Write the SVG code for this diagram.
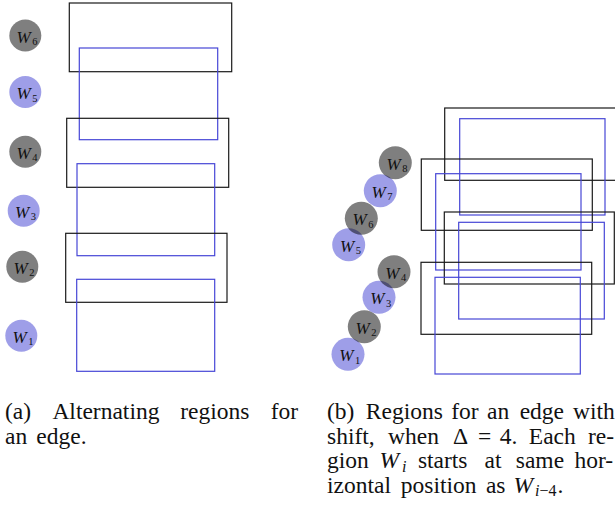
<svg xmlns="http://www.w3.org/2000/svg" width="615" height="508" viewBox="0 0 615 508">
<style>
.bk{fill:none;stroke:#1a1a1a;stroke-width:1.2}
.bl{fill:none;stroke:#4646d6;stroke-width:1.2}
.cg{fill:#000;fill-opacity:0.5}
.cb{fill:#3d3dd1;fill-opacity:0.5}
text{font-family:"Liberation Serif","DejaVu Serif",serif;fill:#111}
.w{font-style:italic;font-size:17px}
.s{font-size:10.5px}
.cap{font-size:23.5px}
.it{font-style:italic}
.sb{font-size:16px}
</style>
<g id="regions-a">
<rect class="bk" x="69.3" y="3" width="162.4" height="68.7"/>
<rect class="bl" x="79.3" y="48" width="138.4" height="91.7"/>
<rect class="bk" x="66.7" y="118.3" width="162" height="69"/>
<rect class="bl" x="77" y="163.7" width="137.7" height="92"/>
<rect class="bk" x="65.7" y="233.3" width="161.3" height="69"/>
<rect class="bl" x="76.7" y="279.3" width="138" height="92"/>
</g>
<g id="a-W6"><circle class="cg" cx="25.3" cy="35.5" r="16"/><text class="w" x="16.6" y="42.5">W</text><text class="s" x="32.3" y="45">6</text></g>
<g id="a-W5"><circle class="cb" cx="25.3" cy="92" r="16"/><text class="w" x="16.6" y="99">W</text><text class="s" x="32.3" y="101.5">5</text></g>
<g id="a-W4"><circle class="cg" cx="25.3" cy="151.7" r="16"/><text class="w" x="16.6" y="158.7">W</text><text class="s" x="32.3" y="161.2">4</text></g>
<g id="a-W3"><circle class="cb" cx="23.7" cy="210.7" r="16"/><text class="w" x="15" y="217.7">W</text><text class="s" x="30.7" y="220.2">3</text></g>
<g id="a-W2"><circle class="cg" cx="22.3" cy="266.7" r="16"/><text class="w" x="13.6" y="273.7">W</text><text class="s" x="29.3" y="276.2">2</text></g>
<g id="a-W1"><circle class="cb" cx="21.3" cy="335.7" r="16"/><text class="w" x="12.6" y="342.7">W</text><text class="s" x="28.3" y="345.2">1</text></g>

<g id="regions-b">
<rect class="bk" x="444.7" y="108" width="171" height="72.3"/>
<rect class="bl" x="459.7" y="118.7" width="145.3" height="96.3"/>
<rect class="bk" x="421.3" y="159" width="171" height="71.3"/>
<rect class="bl" x="435.7" y="173.7" width="145.3" height="96.3"/>
<rect class="bk" x="444.3" y="212" width="170" height="72"/>
<rect class="bl" x="458.7" y="222.3" width="145.6" height="96.7"/>
<rect class="bk" x="421" y="262.3" width="170.7" height="72"/>
<rect class="bl" x="435" y="277.3" width="145.3" height="96.7"/>
</g>
<g id="b-W1"><circle class="cb" cx="348" cy="354.3" r="16.5"/><text class="w" x="339.3" y="361.3">W</text><text class="s" x="355" y="363.8">1</text></g>
<g id="b-W2"><circle class="cg" cx="364.3" cy="326.7" r="16.5"/><text class="w" x="355.6" y="333.7">W</text><text class="s" x="371.3" y="336.2">2</text></g>
<g id="b-W3"><circle class="cb" cx="379" cy="297.3" r="16.5"/><text class="w" x="370.3" y="304.3">W</text><text class="s" x="386" y="306.8">3</text></g>
<g id="b-W4"><circle class="cg" cx="394" cy="271.7" r="16.5"/><text class="w" x="385.3" y="278.7">W</text><text class="s" x="401" y="281.2">4</text></g>
<g id="b-W5"><circle class="cb" cx="348.7" cy="244.7" r="16.5"/><text class="w" x="340" y="251.7">W</text><text class="s" x="355.7" y="254.2">5</text></g>
<g id="b-W6"><circle class="cg" cx="361.3" cy="218.3" r="16.5"/><text class="w" x="352.6" y="225.3">W</text><text class="s" x="368.3" y="227.8">6</text></g>
<g id="b-W7"><circle class="cb" cx="380.3" cy="190.7" r="16.5"/><text class="w" x="371.6" y="197.7">W</text><text class="s" x="387.3" y="200.2">7</text></g>
<g id="b-W8"><circle class="cg" cx="395.3" cy="162.7" r="16.5"/><text class="w" x="386.6" y="169.7">W</text><text class="s" x="402.3" y="172.2">8</text></g>

<g id="caption-a">
<text class="cap" y="419"><tspan x="5">(a)</tspan> <tspan x="52.4">Alternating</tspan> <tspan x="180.3">regions</tspan> <tspan x="270.8">for</tspan></text>
<text class="cap" y="443.5"><tspan x="5">an</tspan> <tspan x="36.3">edge.</tspan></text>
</g>
<g id="caption-b">
<text class="cap" y="419"><tspan x="327">(b)</tspan> <tspan x="365.8">Regions</tspan> <tspan x="451.3">for</tspan> <tspan x="487.1">an</tspan> <tspan x="519.7">edge</tspan> <tspan x="573">with</tspan></text>
<text class="cap" y="443.5"><tspan x="327">shift,</tspan> <tspan x="388.1">when</tspan> <tspan x="453">Δ</tspan> <tspan x="478">=</tspan> <tspan x="499.7">4.</tspan> <tspan x="528.8">Each</tspan> <tspan x="588">re-</tspan></text>
<text class="cap" y="468"><tspan x="327">gion</tspan> <tspan x="379.6" class="it">W</tspan><tspan x="402" dy="3.5" class="it sb">i</tspan> <tspan x="417.9" dy="-3.5">starts</tspan> <tspan x="484.5">at</tspan> <tspan x="515.8">same</tspan> <tspan x="574.5">hor-</tspan></text>
<text class="cap" y="492.5"><tspan x="327">izontal</tspan> <tspan x="400.8">position</tspan> <tspan x="485.9">as</tspan> <tspan x="513.5" class="it">W</tspan><tspan x="535" dy="3.5" class="sb"><tspan class="it">i</tspan>−4</tspan><tspan x="557.5" dy="-3.5">.</tspan></text>
</g>
</svg>
